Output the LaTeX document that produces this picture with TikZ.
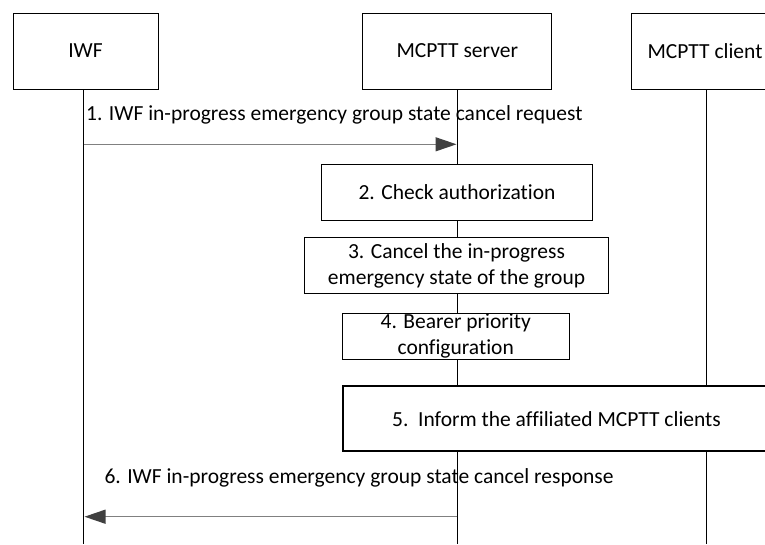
\documentclass[tikz,border=0pt]{standalone}
\usepackage{fontspec}
\setmainfont{Carlito}[Ligatures=CommonOff]
\usetikzlibrary{arrows.meta}
\definecolor{msgline}{HTML}{808080}
\definecolor{msghead}{HTML}{404040}
\begin{document}
\begin{tikzpicture}[x=1pt,y=-1pt,
  every node/.style={font=\fontsize{21.5}{25.8}\selectfont, inner sep=0pt},
  entity/.style={draw, fill=white, line width=1pt, minimum height=76pt, align=center},
  stepbox/.style={draw, fill=white, line width=1pt, align=center},
  thickbox/.style={draw, fill=white, line width=2pt, align=center},
  life/.style={line width=1pt},
  msg/.style={draw=msgline, line width=1.2pt, -{Triangle[length=21pt,width=14pt,fill=msghead,color=msghead]}},
  lbl/.style={anchor=base west}]
\clip (0,0) rectangle (765,544);
\fill[white] (0,0) rectangle (765,544);
% entities
\node[entity, minimum width=145pt] (iwf) at (85.5,51) {IWF};
\node[entity, minimum width=189pt] (srv) at (457.3,51) {MCPTT server};
\node[entity, minimum width=148pt] (cli) at (705,51) {MCPTT client};
% lifeline ends
\coordinate (iwfend) at (83.5,544);
\coordinate (srvend) at (457.3,544);
\coordinate (cliend) at (706,544);
\draw[life] (iwf.south -| iwfend) -- (iwfend);
\draw[life] (srv.south) -- (srvend);
\draw[life] (cli.south -| cliend) -- (cliend);
% message 1
\coordinate (m1s) at (83.5,144.3);
\coordinate (m1e) at (456.5,144.3);
\draw[msg] (m1s) -- (m1e);
\node[lbl] (l1) at (86,120.5) {1. IWF in-progress emergency group state cancel request};
% steps
\node[stepbox, minimum width=270.6pt, minimum height=56pt] (s2) at (457,192) {2. Check authorization};
\node[stepbox, minimum width=303.6pt, minimum height=55.6pt] (s3) at (456.5,265.5) {3. Cancel the in-progress\\emergency state of the group};
\node[stepbox, minimum width=226.7pt, minimum height=45.7pt] (s4) at (455.7,336.2) {4. Bearer priority\\configuration};
\node[thickbox, minimum width=427pt, minimum height=65pt] (s5) at (556.5,418.7) {5.\ \ Inform the affiliated MCPTT clients};
% message 6
\coordinate (m6s) at (457.3,516.7);
\coordinate (m6e) at (84.5,516.7);
\draw[msg] (m6s) -- (m6e);
\node[lbl] (l6) at (104.3,483) {6. IWF in-progress emergency group state cancel response};
\end{tikzpicture}
\end{document}
